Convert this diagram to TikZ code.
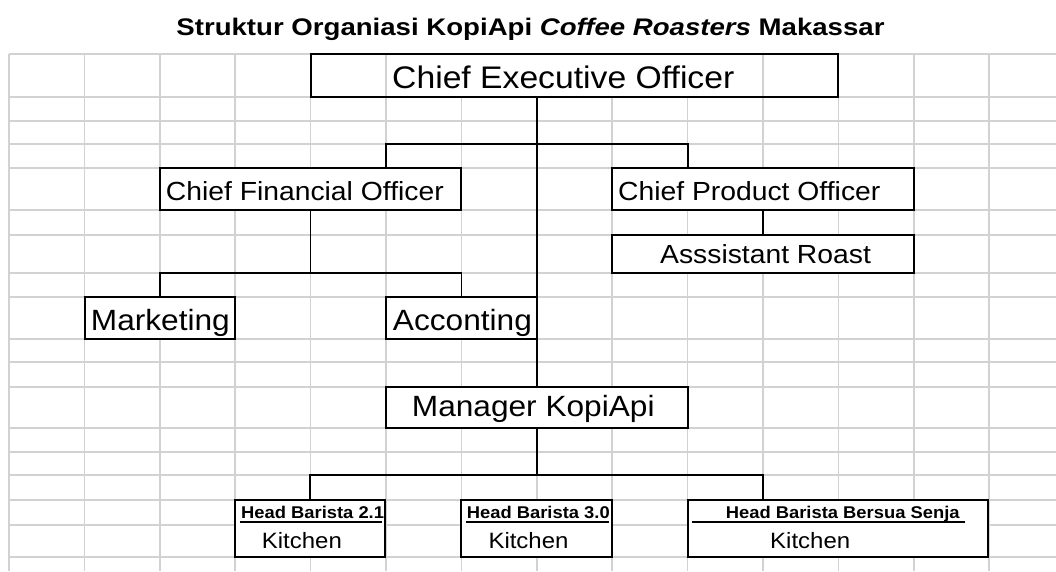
\documentclass[tikz,border=0pt]{standalone}
\usepackage{fontspec}
\setmainfont{Liberation Sans}
\newfontfamily\cellfont[FakeStretch=1.08]{Liberation Sans}
\newfontfamily\titlefont[FakeStretch=1.15]{Liberation Sans}
\definecolor{gridgray}{RGB}{210,210,210}

\tikzset{
  gridline/.style={draw=gridgray, line width=1.5pt},
  box/.style={draw=black, line width=2.7pt, fill=white, rectangle, inner sep=0pt},
  conn/.style={draw=black, line width=1.7pt},
  txt/.style={inner sep=0pt, anchor=base west},
  underbar/.style={draw=black, line width=1.9pt},
  bigtext/.style={font=\fontsize{31.2}{36}\cellfont},
  midtext/.style={font=\fontsize{26.2}{30}\cellfont},
  unittext/.style={font=\fontsize{29.3}{34}\cellfont},
  kitchentext/.style={font=\fontsize{22.2}{26}\cellfont},
  headtext/.style={font=\fontsize{17}{20}\cellfont\bfseries},
}

\begin{document}
\begin{tikzpicture}[x=1pt, y=-1pt]
\useasboundingbox (0,0) rectangle (1056,571);
\fill[white] (0,0) rectangle (1056,571);

% title
\node[inner sep=0pt, anchor=base, font=\fontsize{24}{28}\titlefont\bfseries] (title) at (530.5,35)
  {Struktur Organiasi KopiApi \textit{Coffee Roasters} Makassar};

% worksheet grid
\foreach \k in {0,...,13}
  \draw[gridline] ({9+75.4*\k},54) -- ({9+75.4*\k},571);
\foreach \y in {54,97,121,144,168,210,235,273,297,339,362,387,428,452,475,500,525,557}
  \draw[gridline] (9,\y) -- (1056,\y);

% CEO cell: text overflow hides the inner grid lines
\fill[white] (387.5,55) rectangle (761.5,96);
\node[box, fill=none, minimum width=527pt, minimum height=43pt] (ceo) at (574.5,75.5) {};

% boxes
\node[box, minimum width=301pt, minimum height=42pt] (cfo)  at (310.5,189) {};
\node[box, minimum width=302pt, minimum height=42pt] (cpo)  at (763,189) {};
\node[box, minimum width=302pt, minimum height=38pt] (asst) at (763,254) {};
\node[box, minimum width=150pt, minimum height=42pt] (mkt)  at (160,318) {};
\node[box, minimum width=151pt, minimum height=42pt] (acc)  at (461.5,318) {};
\node[box, minimum width=302pt, minimum height=41pt] (mgr)  at (537,407.5) {};
\node[box, minimum width=150pt, minimum height=57pt] (hba)  at (310,528.5) {};
\node[box, minimum width=151pt, minimum height=57pt] (hbb)  at (536.5,528.5) {};
\node[box, minimum width=300pt, minimum height=57pt] (hbc)  at (838,528.5) {};

% bus lines
\coordinate (cbusL) at (386,144);
\coordinate (cbusR) at (688,144);
\coordinate (fbus) at (0,273);
\coordinate (mbus) at (0,475);
\coordinate (dropC) at (763,475);

% connectors
\draw[conn] (ceo.south -| mgr.north) -- (mgr.north);
\draw[conn] (cbusL |- cfo.north) -- (cbusL) -- (cbusR) -- (cbusR |- cpo.north);
\draw[conn] (cfo.south) -- (cfo.south |- fbus);
\draw[conn] (mkt.north) -- (mkt.north |- fbus) -- (acc.north |- fbus) -- (acc.north);
\draw[conn] (cpo.south) -- (asst.north);
\draw[conn] (mgr.south) -- (mgr.south |- mbus);
\draw[conn] (hba.north) -- (hba.north |- mbus) -- (dropC) -- (dropC |- hbc.north);

% labels
\node[txt, bigtext]  (tceo)  at (392,88)    {Chief Executive Officer};
\node[txt, midtext]  (tcfo)  at (165.7,200) {Chief Financial Officer};
\node[txt, midtext]  (tcpo)  at (618,200)   {Chief Product Officer};
\node[txt, midtext]  (tasst) at (660,263.3) {Asssistant Roast};
\node[txt, unittext] (tmkt)  at (90.7,330)  {Marketing};
\node[txt, unittext] (tacc)  at (392.7,330) {Acconting};
\node[txt, unittext] (tmgr)  at (411.7,416.7) {Manager KopiApi};

\node[txt, headtext] (thba) at (241,518.3)   {Head Barista 2.1};
\node[txt, headtext] (thbb) at (466.7,518.3) {Head Barista 3.0};
\node[txt, headtext] (thbc) at (725.7,518.3) {Head Barista Bersua Senja};
\draw[underbar] (240,522.3) -- (381.7,522.3);
\draw[underbar] (466,522.3) -- (609.3,522.3);
\draw[underbar] (691.7,522.3) -- (965,522.3);

\node[txt, kitchentext] (kha) at (261.7,548.3) {Kitchen};
\node[txt, kitchentext] (khb) at (488.3,548.3) {Kitchen};
\node[txt, kitchentext] (khc) at (770,548.3)   {Kitchen};
\end{tikzpicture}
\end{document}
